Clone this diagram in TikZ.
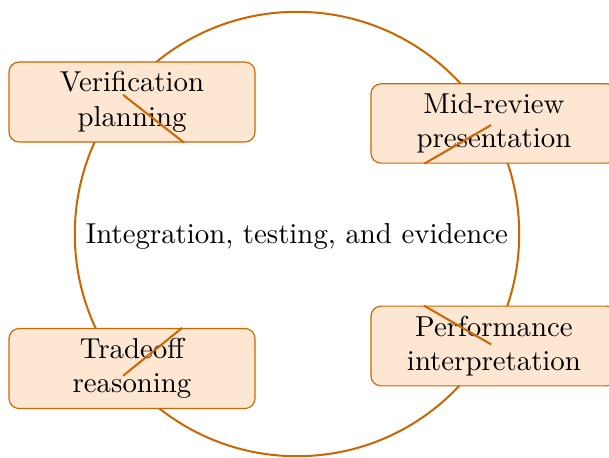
\documentclass[tikz,border=0pt]{standalone}
\usetikzlibrary{calc}

\definecolor{ringorange}{RGB}{204,102,0}
\definecolor{boxfill}{RGB}{253,231,211}

\begin{document}
\begin{tikzpicture}[
  stagebox/.style={
        draw=ringorange,
        fill=boxfill,
        rounded corners=3.5pt,
        text width=2.6cm,
        align=center,
        minimum width=3cm
  },
  spoke/.style={
        ringorange,
        line width=0.7pt
  }
]
    \useasboundingbox (-3.622,-2.72) rectangle (3.805,2.854);

    \coordinate (o) at (0,0);
    \draw[ringorange, line width=0.7pt] (o) circle (2.71cm);

    \node (hub) at (0,-0.03) {Integration, testing, and evidence};

    \node[stagebox] (ver) at (-2.012, 1.610) {Verification planning};
    \node[stagebox] (mid) at (2.402, 1.348) {Mid-review presentation};
    \node[stagebox] (perf) at (2.402, -1.366) {Performance interpretation};
    \node[stagebox] (trade) at (-2.012, -1.640) {Tradeoff reasoning};

    \draw[spoke] ($(ver.center)!-0.14cm!(o)$) -- (ver.-38.7);
    \draw[spoke] ($(mid.center)!0.04cm!(o)$) -- (mid.-150.7);
    \draw[spoke] ($(perf.center)!0.04cm!(o)$) -- (perf.150.4);
    \draw[spoke] ($(trade.center)!-0.14cm!(o)$) -- (trade.39.2);
\end{tikzpicture}
\end{document}
